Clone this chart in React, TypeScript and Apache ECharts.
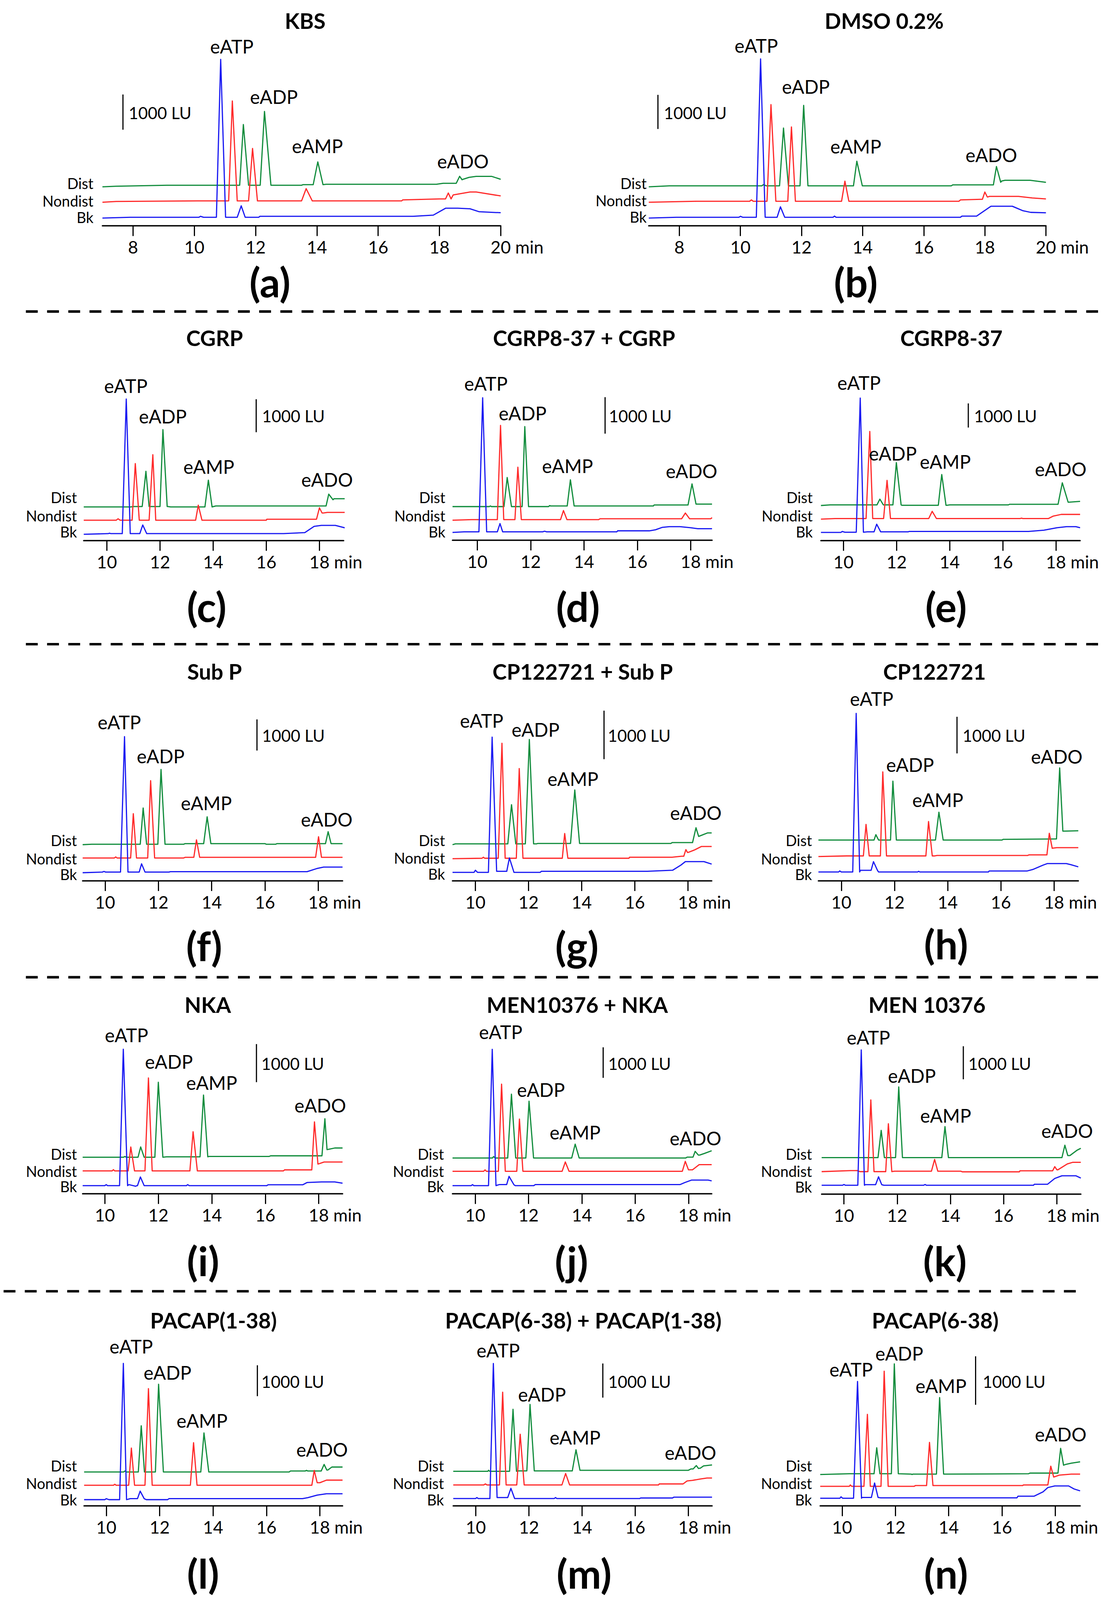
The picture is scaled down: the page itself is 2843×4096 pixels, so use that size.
import React, { useEffect, useRef } from "react";
import * as echarts from "echarts";

const W = 2843;
const H = 4096;
const S = W / 3091;
const FONT = "Lato, 'Open Sans', 'DejaVu Sans', sans-serif";
const GREEN = "#118c3c";
const RED = "#ff2a2a";
const BLUE = "#1a1af2";

const TITLES = ["KBS", "DMSO 0.2%", "CGRP", "CGRP8-37 + CGRP", "CGRP8-37", "Sub P", "CP122721 + Sub P", "CP122721", "NKA", "MEN10376 + NKA", "MEN 10376", "PACAP(1-38)", "PACAP(6-38) + PACAP(1-38)", "PACAP(6-38)"];
const TAGS = ["(a)", "(b)", "(c)", "(d)", "(e)", "(f)", "(g)", "(h)", "(i)", "(j)", "(k)", "(l)", "(m)", "(n)"];
const PEAK_LABELS = ["eATP", "eADP", "eAMP", "eADO"];
const TRACE_LABELS = ["Dist", "Nondist", "Bk"];
const TICKS_WIDE = [8, 10, 12, 14, 16, 18, 20];
const TICKS_NARROW = [10, 12, 14, 16, 18];

// Each trace: base = [min, LU] baseline points; peaks = [start, apex time, end, apex LU, (end level)]
const A_BK = { base: [[7,0],[7.9,22],[10.15,22],[10.2,50],[10.3,22],[12.1,22],[12.14,50],[17.14,50],[17.8,84],[18.2,280],[18.6,280],[19.0,264],[19.3,180],[20,152]], peaks: [[10.72,10.86,11.02,4507],[11.4,11.53,11.66,348]] };
const A_ND = { base: [[7,0],[7.45,22],[10.1,39],[16.77,39],[16.8,67],[18.0,96],[18.45,208],[19.0,292],[19.2,292],[20,180]], peaks: [[11.12,11.24,11.4,2877],[11.77,11.9,12.06,1529],[13.5,13.65,13.85,388],[18.2,18.29,18.38,264]] };
const A_DI = { base: [[7,0],[7.45,17],[9.1,45],[13.5,45],[13.55,62],[14.3,73],[17.9,73],[18.12,101],[18.77,214],[18.97,270],[19.2,298],[19.7,298],[20,214]], peaks: [[11.48,11.6,11.77,1770],[12.15,12.29,12.5,2141],[13.88,14.03,14.2,708],[18.55,18.66,18.74,298,200]] };

const B_BK = { base: [[7,0],[7.9,23],[9.95,23],[10.0,52],[10.08,23],[13.03,23],[13.08,58],[13.13,23],[17.2,23],[17.25,58],[17.73,58],[18.2,347],[18.9,347],[19.25,214],[19.5,168],[20,156]], peaks: [[10.52,10.66,10.81,4664],[11.2,11.31,11.45,329]] };
const B_ND = { base: [[7,0],[8.55,29],[10.3,29],[10.36,69],[10.42,29],[17.15,29],[17.2,69],[17.85,87],[18.1,156],[18.15,173],[19.1,173],[19.55,127],[20,98]], peaks: [[10.87,11.0,11.16,2861],[11.55,11.67,11.8,2208],[13.31,13.42,13.55,618],[17.92,18.0,18.08,300,156]] };
const B_DI = { base: [[7,0],[7.67,29],[10.7,29],[10.75,64],[10.85,29],[16.9,29],[16.95,58],[18.55,170],[18.66,191],[19.48,191],[20,133]], peaks: [[11.28,11.41,11.57,1722],[11.95,12.07,12.21,2387],[13.7,13.81,13.99,751],[18.28,18.38,18.52,595,133]] };

const C_BK = { base: [[9.13,0],[10.05,19],[10.1,31],[10.15,19],[16.65,19],[17.45,50],[17.8,238],[18.07,269],[18.6,269],[19.05,175]], peaks: [[10.58,10.73,10.88,4100],[11.24,11.35,11.5,281]] };
const C_ND = { base: [[9.13,0],[10.35,0],[10.42,44],[10.5,0],[16.0,0],[16.02,31],[17.7,31],[18.15,219],[18.3,238],[19.05,238]], peaks: [[10.95,11.07,11.22,1719],[11.59,11.73,11.84,1988],[13.34,13.44,13.58,456],[17.89,18.0,18.1,375,219]] };
const C_DI = { base: [[9.13,0],[10.9,0],[11.0,13],[12.3,13],[12.4,0],[13.5,0],[14.1,31],[17.6,31],[18.55,250],[19.05,250]], peaks: [[11.33,11.47,11.59,1081],[12.0,12.11,12.27,2344],[13.69,13.82,13.96,812],[18.25,18.35,18.51,388,219]] };

const D_BK = { base: [[9.07,0],[9.5,17],[12.45,17],[12.52,34],[12.6,17],[15.23,17],[15.26,45],[16.45,45],[16.68,73],[16.94,141],[17.2,158],[17.6,158],[18.0,130],[18.27,102],[18.8,102]], peaks: [[10.06,10.2,10.35,3689],[10.75,10.85,10.95,243]] };
const D_ND = { base: [[9.07,0],[9.78,17],[14.55,17],[14.6,40],[18.75,40],[18.8,73]], peaks: [[10.75,10.87,10.99,2599],[11.41,11.52,11.65,1452],[13.12,13.23,13.36,266],[17.66,17.8,17.96,198]] };
const D_DI = { base: [[9.07,0],[10.45,0],[10.49,17],[10.53,0],[12.67,0],[12.71,28],[12.75,17],[16.6,17],[16.63,45],[18.8,68]], peaks: [[11.0,11.12,11.28,797],[11.68,11.78,11.92,2192],[13.37,13.49,13.63,735],[17.9,18.05,18.2,622,68]] };

const E_BK = { base: [[9.15,0],[9.9,0],[9.95,43],[10.05,9],[10.9,26],[12.44,26],[12.47,43],[16.97,43],[17.55,94],[18.04,197],[18.4,239],[18.75,239],[18.91,197]], peaks: [[10.48,10.63,10.75,5566],[11.15,11.25,11.4,342]] };
const E_ND = { base: [[9.15,0],[9.68,26],[16.66,26],[16.7,43],[16.76,26],[17.72,26],[17.9,128],[18.2,197],[18.91,197]], peaks: [[10.85,10.99,11.1,3634],[11.51,11.64,11.77,1607],[13.21,13.34,13.5,325]] };
const E_DI = { base: [[9.15,0],[9.5,26],[12.2,9],[13.9,9],[14.0,26],[16.21,26],[16.25,51],[18.05,51],[18.91,171]], peaks: [[11.26,11.37,11.5,265],[11.86,11.99,12.17,1778],[13.57,13.7,13.86,1283],[18.08,18.24,18.46,941,137]] };

const F_BK = { base: [[9.16,0],[9.9,20],[9.96,40],[10.02,20],[12.4,20],[12.45,33],[17.58,33],[17.94,132],[18.2,179],[18.91,179]], peaks: [[10.58,10.73,10.86,4369],[11.28,11.37,11.5,285]] };
const F_ND = { base: [[9.16,0],[10.35,0],[10.4,33],[10.45,0],[12.95,0],[13.0,20],[18.91,20]], peaks: [[10.96,11.06,11.18,1423],[11.6,11.71,11.86,2483],[13.33,13.43,13.55,583],[17.9,18.01,18.12,682]] };
const F_DI = { base: [[9.16,0],[9.5,13],[12.95,13],[13.0,33],[16.0,33],[16.05,13],[16.4,13],[16.45,33],[18.91,33]], peaks: [[11.32,11.43,11.56,1178],[11.98,12.1,12.25,2416],[13.7,13.83,13.97,894],[18.27,18.37,18.48,417]] };

const G_BK = { base: [[9.14,0],[9.95,0],[10.0,43],[10.08,0],[10.8,21],[11.15,21],[11.45,0],[12.44,0],[12.48,21],[16.47,21],[17.42,43],[17.73,149],[17.9,221],[18.6,221],[18.89,170]], peaks: [[10.49,10.63,10.8,2787],[11.18,11.28,11.44,298]] };
const G_ND = { base: [[9.14,0],[10.25,9],[10.3,30],[10.35,9],[15.78,9],[15.8,30],[17.4,30],[17.75,51],[18.0,128],[18.24,179],[18.5,251],[18.89,251]], peaks: [[10.86,11.0,11.12,2379],[11.54,11.65,11.79,1859],[13.27,13.36,13.48,519],[17.84,17.92,17.98,187,128]] };
const G_DI = { base: [[9.14,0],[9.25,17],[12.3,17],[12.35,26],[17.36,26],[17.4,43],[18.15,43],[18.74,243],[18.89,243]], peaks: [[11.22,11.36,11.52,825],[11.88,12.03,12.19,2170],[13.58,13.74,13.92,1128],[18.17,18.3,18.4,349,170]] };

const H_BK = { base: [[9.14,0],[9.9,0],[9.94,28],[10.0,0],[10.72,45],[11.08,45],[11.4,0],[12.87,0],[12.91,17],[12.95,0],[15.53,0],[15.56,28],[16.99,28],[17.22,73],[17.58,185],[17.75,230],[18.46,230],[18.64,197],[18.91,140]], peaks: [[10.43,10.56,10.69,4327],[11.12,11.21,11.36,281]] };
const H_ND = { base: [[9.14,0],[10.2,17],[13.5,17],[13.6,28],[17.0,28],[17.05,45],[17.7,45],[18.1,242],[18.91,242]], peaks: [[10.83,10.93,11.05,877],[11.47,11.56,11.7,2310],[13.18,13.28,13.42,955],[17.73,17.82,17.93,635,225]] };
const H_DI = { base: [[9.14,0],[16.05,0],[16.08,17],[18.05,28],[18.35,242],[18.91,253]], peaks: [[11.23,11.3,11.4,146],[11.85,11.94,12.07,1607],[13.54,13.67,13.83,759],[18.09,18.21,18.33,1967,242]] };

const I_BK = { base: [[9.17,0],[10.0,0],[10.05,27],[10.1,0],[10.9,27],[11.15,-16],[11.2,0],[13.05,0],[13.1,27],[13.15,0],[16.06,0],[16.1,22],[17.4,22],[17.56,81],[18.1,97],[18.6,97],[18.89,65]], peaks: [[10.55,10.69,10.85,3581],[11.22,11.33,11.47,227]] };
const I_ND = { base: [[9.17,0],[10.27,0],[10.32,32],[10.37,0],[16.68,0],[16.72,27],[17.6,27],[18.2,233],[18.89,233]], peaks: [[10.87,10.97,11.11,628],[11.5,11.63,11.77,2440],[13.18,13.3,13.46,1028],[17.74,17.84,17.97,1288,179]] };
const I_DI = { base: [[9.17,0],[10.7,0],[10.75,22],[10.8,0],[12.3,11],[13.5,11],[13.9,22],[16.15,22],[16.2,38],[18.05,38],[18.35,205],[18.6,243],[18.89,243]], peaks: [[11.24,11.34,11.47,271],[11.87,12.0,12.17,1969],[13.56,13.69,13.85,1634],[18.12,18.23,18.31,1012,200]] };

const J_BK = { base: [[9.15,0],[9.85,0],[9.9,34],[9.95,0],[10.9,34],[11.15,34],[11.5,0],[12.2,0],[12.25,34],[17.68,34],[17.86,101],[18.12,183],[18.74,183],[18.87,155]], peaks: [[10.5,10.64,10.78,4462],[11.18,11.27,11.45,304]] };
const J_ND = { base: [[9.15,0],[10.32,0],[10.37,47],[10.42,0],[17.75,0],[18.15,47],[18.4,216],[18.87,216]], peaks: [[10.87,10.99,11.13,2853],[11.56,11.66,11.79,1710],[13.26,13.38,13.52,304],[17.77,17.88,18.0,324,47]] };
const J_DI = { base: [[9.15,0],[10.65,0],[10.69,47],[10.75,0],[17.9,0],[17.95,27],[18.42,95],[18.6,149],[18.87,237]], peaks: [[11.22,11.36,11.52,2089],[11.9,12.02,12.19,1859],[13.62,13.75,13.9,453],[18.17,18.25,18.37,216,95]] };

const K_BK = { base: [[9.16,0],[9.95,0],[10.0,25],[10.05,0],[10.8,19],[11.15,19],[11.5,0],[13.0,0],[13.05,25],[13.1,0],[17.13,0],[17.16,31],[17.66,31],[17.93,206],[18.2,287],[18.73,287],[18.91,219]], peaks: [[10.52,10.65,10.77,4094],[11.19,11.3,11.42,256]] };
const K_ND = { base: [[9.16,0],[10.25,31],[10.5,31],[10.6,0],[11.9,12],[14.4,12],[14.45,-6],[16.6,-6],[16.62,25],[17.85,25],[18.05,56],[18.4,231],[18.6,281],[18.91,281]], peaks: [[10.9,11.01,11.13,2169],[11.57,11.67,11.8,1450],[13.29,13.41,13.53,369],[17.86,17.93,18.01,150,56]] };
const K_DI = { base: [[9.16,0],[18.15,0],[18.5,62],[18.76,219],[18.91,281]], peaks: [[11.28,11.4,11.52,825],[11.94,12.06,12.2,2138],[13.68,13.8,13.93,938],[18.2,18.31,18.42,375,62]] };

const L_BK = { base: [[9.17,0],[9.95,0],[10.0,32],[10.1,0],[10.9,32],[11.15,32],[11.5,0],[12.3,0],[12.35,32],[17.35,32],[17.55,64],[17.9,147],[18.25,192],[18.85,192]], peaks: [[10.5,10.64,10.76,4410],[11.17,11.27,11.42,276]] };
const L_ND = { base: [[9.17,0],[10.27,0],[10.32,32],[10.37,0],[17.6,0],[18.0,83],[18.25,167],[18.85,167]], peaks: [[10.84,10.94,11.06,1205],[11.45,11.58,11.72,3128],[13.15,13.27,13.4,1378],[17.7,17.79,17.9,481,83]] };
const L_DI = { base: [[9.17,0],[10.65,0],[10.7,32],[10.75,0],[16.85,0],[16.9,32],[17.45,32],[17.5,51],[17.55,32],[18.0,32],[18.3,64],[18.45,160],[18.85,160]], peaks: [[11.2,11.31,11.43,1494],[11.84,11.96,12.14,2840],[13.54,13.66,13.84,1263],[18.05,18.16,18.26,244,64]] };

const M_BK = { base: [[9.15,0],[9.99,0],[10.04,29],[10.09,0],[10.8,29],[11.15,29],[11.45,0],[12.95,0],[13.0,29],[13.05,0],[16.17,0],[16.2,17],[17.4,17],[17.45,40],[18.89,40]], peaks: [[10.53,10.66,10.8,3959],[11.2,11.32,11.46,300]] };
const M_ND = { base: [[9.15,0],[10.3,0],[10.36,29],[10.42,0],[16.88,0],[16.9,29],[17.8,29],[17.95,116],[18.15,133],[18.45,173],[18.7,202],[18.89,202]], peaks: [[10.89,11.01,11.14,2717],[11.54,11.67,11.82,1485],[13.24,13.38,13.53,335]] };
const M_DI = { base: [[9.15,0],[10.45,0],[10.48,29],[10.52,0],[11.6,12],[12.4,12],[13.9,29],[18.0,29],[18.1,69],[18.45,90],[18.57,156],[18.89,185]], peaks: [[11.27,11.4,11.53,1815],[11.92,12.04,12.2,1959],[13.63,13.77,13.92,630],[18.18,18.3,18.38,168,81]] };

const N_BK = { base: [[9.18,0],[9.92,0],[9.96,29],[10.02,0],[10.75,16],[11.1,16],[11.45,8],[16.56,8],[16.6,41],[17.2,41],[17.54,131],[17.72,220],[17.98,253],[18.5,253],[18.7,192],[18.93,151]], peaks: [[10.43,10.58,10.73,2407],[11.11,11.22,11.35,314]] };
const N_ND = { base: [[9.18,0],[10.27,0],[10.31,29],[10.36,0],[12.7,0],[12.75,16],[16.78,16],[16.8,29],[17.7,29],[18.16,233],[18.6,253],[18.93,253]], peaks: [[10.82,10.95,11.06,1485],[11.46,11.58,11.73,2375],[13.17,13.28,13.41,906],[17.72,17.83,17.94,416,192]] };
const N_DI = { base: [[9.18,0],[10.27,16],[12.6,8],[12.62,0],[12.66,8],[17.0,16],[17.05,29],[18.05,29],[18.4,210],[18.6,233],[18.93,261]], peaks: [[11.2,11.3,11.42,551],[11.85,11.96,12.11,2281],[13.54,13.66,13.81,1587],[18.1,18.2,18.31,539,192]] };

// Layout (reference pixels): axis ends, baselines, scale bar, text anchors
const LAYOUT = [
  { traces: [A_DI, A_ND, A_BK], ticks: TICKS_WIDE, x0: 285, x1: 1393, tMin: 7, tMax: 20, axisY: 628, bar: 98, bkY: 607, nY: 563, dY: 520, barT: 7.67, barBot: 361, title: [849, 58], tag: [751, 784], lbl: [[645, 129], [762, 269], [883, 406], [1288, 449]], trR: 260, trY: [513, 559, 601], barTx: [358, 314] },
  { traces: [B_DI, B_ND, B_BK], ticks: TICKS_WIDE, x0: 1805, x1: 2910, tMin: 7, tMax: 20, axisY: 628, bar: 95, bkY: 607, nY: 563, dY: 520, barT: 7.3, barBot: 359, title: [2460, 58], tag: [2381, 784], lbl: [[2104, 127], [2242, 241], [2381, 407], [2758, 431]], trR: 1799, trY: [513, 558, 600], barTx: [1847, 314] },
  { traces: [C_DI, C_ND, C_BK], ticks: TICKS_NARROW, x0: 233, x1: 956, tMin: 9.13, tMax: 18.91, axisY: 1504, bar: 91.8, bkY: 1487, nY: 1448, dY: 1411, barT: 15.62, barBot: 1203, title: [597, 940], tag: [575, 1687], lbl: [[350, 1074], [453, 1158], [581, 1299], [910, 1335]], trR: 214, trY: [1388, 1436, 1476], barTx: [729, 1157] },
  { traces: [D_DI, D_ND, D_BK], ticks: TICKS_NARROW, x0: 1259, x1: 1981, tMin: 9.07, tMax: 18.8, axisY: 1503, bar: 101.6, bkY: 1482, nY: 1448, dY: 1410, barT: 14.79, barBot: 1207, title: [1625, 940], tag: [1608, 1687], lbl: [[1352, 1067], [1454, 1150], [1579, 1297], [1924, 1311]], trR: 1239, trY: [1388, 1436, 1476], barTx: [1694, 1157] },
  { traces: [E_DI, E_ND, E_BK], ticks: TICKS_NARROW, x0: 2284, x1: 3005, tMin: 9.15, tMax: 18.91, axisY: 1504, bar: 67.2, bkY: 1482, nY: 1445, dY: 1407, barT: 14.7, barBot: 1190, title: [2647, 940], tag: [2632, 1687], lbl: [[2390, 1065], [2484, 1262], [2630, 1285], [2951, 1305]], trR: 2261, trY: [1388, 1436, 1476], barTx: [2710, 1157] },
  { traces: [F_DI, F_ND, F_BK], ticks: TICKS_NARROW, x0: 230, x1: 953, tMin: 9.16, tMax: 18.91, axisY: 2451, bar: 86.7, bkY: 2429, nY: 2388, dY: 2351, barT: 15.7, barBot: 2089, title: [597, 1869], tag: [568, 2632], lbl: [[332, 2010], [447, 2104], [574, 2235], [909, 2281]], trR: 214, trY: [2342, 2390, 2430], barTx: [729, 2047] },
  { traces: [G_DI, G_ND, G_BK], ticks: TICKS_NARROW, x0: 1259, x1: 1980, tMin: 9.14, tMax: 18.89, axisY: 2451, bar: 135, bkY: 2428, nY: 2390, dY: 2351, barT: 14.84, barBot: 2113, title: [1621, 1869], tag: [1605, 2632], lbl: [[1340, 2005], [1490, 2030], [1594, 2167], [1936, 2262]], trR: 1238, trY: [2342, 2388, 2429], barTx: [1691, 2047] },
  { traces: [H_DI, H_ND, H_BK], ticks: TICKS_NARROW, x0: 2277, x1: 3000, tMin: 9.14, tMax: 18.91, axisY: 2451, bar: 102, bkY: 2427, nY: 2384, dY: 2338, barT: 14.35, barBot: 2097, title: [2600, 1869], tag: [2632, 2627], lbl: [[2425, 1945], [2532, 2128], [2609, 2226], [2940, 2105]], trR: 2259, trY: [2342, 2390, 2430], barTx: [2678, 2047] },
  { traces: [I_DI, I_ND, I_BK], ticks: TICKS_NARROW, x0: 230, x1: 953, tMin: 9.17, tMax: 18.89, axisY: 3322, bar: 106, bkY: 3300, nY: 3259, dY: 3221, barT: 15.67, barBot: 3012, title: [578, 2796], tag: [565, 3509], lbl: [[352, 2881], [470, 2955], [589, 3013], [891, 3076]], trR: 214, trY: [3215, 3260, 3299], barTx: [727, 2960] },
  { traces: [J_DI, J_ND, J_BK], ticks: TICKS_NARROW, x0: 1259, x1: 1980, tMin: 9.15, tMax: 18.87, axisY: 3322, bar: 85, bkY: 3300, nY: 3260, dY: 3223, barT: 14.8, barBot: 3000, title: [1606, 2796], tag: [1590, 3509], lbl: [[1393, 2872], [1505, 3033], [1600, 3151], [1935, 3168]], trR: 1235, trY: [3215, 3260, 3299], barTx: [1692, 2960] },
  { traces: [K_DI, K_ND, K_BK], ticks: TICKS_NARROW, x0: 2286, x1: 3007, tMin: 9.16, tMax: 18.91, axisY: 3323, bar: 92, bkY: 3299, nY: 3261, dY: 3222, barT: 14.49, barBot: 3004, title: [2579, 2796], tag: [2629, 3509], lbl: [[2416, 2887], [2537, 2994], [2631, 3105], [2969, 3147]], trR: 2259, trY: [3215, 3260, 3300], barTx: [2694, 2960] },
  { traces: [L_DI, L_ND, L_BK], ticks: TICKS_NARROW, x0: 234, x1: 953, tMin: 9.17, tMax: 18.85, axisY: 4191, bar: 86, bkY: 4174, nY: 4134, dY: 4097, barT: 15.66, barBot: 3886, title: [594, 3675], tag: [565, 4378], lbl: [[365, 3747], [466, 3820], [562, 3954], [896, 4034]], trR: 214, trY: [4083, 4129, 4170], barTx: [727, 3845] },
  { traces: [M_DI, M_ND, M_BK], ticks: TICKS_NARROW, x0: 1261, x1: 1981, tMin: 9.15, tMax: 18.89, axisY: 4191, bar: 95, bkY: 4171, nY: 4133, dY: 4095, barT: 14.78, barBot: 3890, title: [1623, 3675], tag: [1625, 4378], lbl: [[1386, 3758], [1508, 3881], [1600, 4000], [1921, 4043]], trR: 1235, trY: [4083, 4129, 4170], barTx: [1692, 3845] },
  { traces: [N_DI, N_ND, N_BK], ticks: TICKS_NARROW, x0: 2282, x1: 3005, tMin: 9.18, tMax: 18.93, axisY: 4191, bar: 135, bkY: 4170, nY: 4137, dY: 4104, barT: 15.01, barBot: 3910, title: [2602, 3675], tag: [2632, 4378], lbl: [[2368, 3811], [2502, 3767], [2618, 3857], [2951, 3992]], trR: 2259, trY: [4083, 4129, 4170], barTx: [2734, 3845] },
];

const DASHES = [[72, 3068, 867], [72, 3068, 1793], [72, 3068, 2720], [10, 3010, 3594]];
const TRACK_NUDGE = [-3, 0, 4];

function buildTrace(base, peaks) {
  const lvl = (t) => {
    let v = base[0][1];
    for (const [bt, bv] of base) {
      if (bt <= t) v = bv;
      else break;
    }
    return v;
  };
  const inPeak = (t) => peaks.some((p) => t > p[0] && t < p[2]);
  const pts = [];
  for (const b of base) if (!inPeak(b[0])) pts.push([b[0], b[1]]);
  for (const p of peaks) {
    pts.push([p[0], lvl(p[0])]);
    pts.push([p[1], p[3]]);
    pts.push([p[2], p.length > 4 ? p[4] : lvl(p[2])]);
  }
  pts.sort((a, b) => a[0] - b[0]);
  return pts;
}

const SZ = { title: 60, tag: 112, peak: 52, tick: 48.6, track: 41, barText: 46 };

function txt(x, y, s, size, weight, align, lh) {
  const style: any = { text: s, fontSize: size * S, fontFamily: FONT, fontWeight: weight, fill: "#000", align, verticalAlign: "middle" };
  if (lh) style.lineHeight = lh * S;
  return { type: "text", x: x * S, y: y * S, silent: true, z: 10, style };
}

export default function App() {
  const ref = useRef(null);
  useEffect(() => {
    const chart = echarts.init(ref.current, null, { renderer: "svg", width: W, height: H });
    const tickSize = SZ.tick * S;
    const cv = document.createElement("canvas").getContext("2d");
    cv.font = `${tickSize}px Lato`;
    const minW = cv.measureText(" min").width;

    const grids = [];
    const xAxes = [];
    const yAxes = [];
    const series = [];
    const graphics = [];
    const cols = [GREEN, RED, BLUE];
    const SPAN = 560;

    LAYOUT.forEach((p, i) => {
      const k = p.bar / 1000;
      const yMin = -(p.axisY - p.bkY) / k;
      const yMax = yMin + SPAN / k;
      grids.push({ left: p.x0 * S, top: (p.axisY - SPAN) * S, width: (p.x1 - p.x0) * S, height: SPAN * S, containLabel: false });
      const last = p.ticks[p.ticks.length - 1];
      xAxes.push({
        gridIndex: i,
        type: "value",
        min: p.tMin,
        max: p.tMax,
        axisLine: { show: true, onZero: false, lineStyle: { color: "#000", width: 4 * S } },
        axisTick: { show: true, inside: false, length: 29 * S, lineStyle: { color: "#000", width: 3.3 * S }, customValues: p.ticks },
        axisLabel: {
          show: true,
          customValues: p.ticks,
          margin: 35 * S,
          color: "#000",
          fontFamily: FONT,
          fontSize: tickSize,
          formatter: (v) => (v === last ? `{n|${v}}{m| min}` : String(v)),
          rich: {
            n: { fontFamily: FONT, fontSize: tickSize, color: "#000", padding: [0, 0, 0, minW] },
            m: { fontFamily: FONT, fontSize: tickSize, color: "#000" },
          },
        },
        splitLine: { show: false },
      });
      yAxes.push({ gridIndex: i, type: "value", min: yMin, max: yMax, show: false });
      const offs = [(p.bkY - p.dY) / k, (p.bkY - p.nY) / k, 0];
      p.traces.forEach((tr, j) => {
        series.push({
          type: "line",
          name: TITLES[i] + " " + TRACE_LABELS[j],
          xAxisIndex: i,
          yAxisIndex: i,
          data: buildTrace(tr.base, tr.peaks).map(([t, v]) => [t, v + offs[j]]),
          symbol: "none",
          showSymbol: false,
          clip: false,
          silent: true,
          z: 2 + j,
          lineStyle: { color: cols[j], width: 3.3 * S, join: "round" },
        });
      });
      const barLU = (p.bkY - p.barBot) / k;
      series.push({
        type: "line",
        name: TITLES[i] + " scale",
        xAxisIndex: i,
        yAxisIndex: i,
        data: [[p.barT, barLU], [p.barT, barLU + 1000]],
        symbol: "none",
        showSymbol: false,
        clip: false,
        silent: true,
        z: 6,
        lineStyle: { color: "#000", width: 3.2 * S },
      });
      graphics.push(txt(p.title[0], p.title[1], TITLES[i], SZ.title, "bold", "center", 0));
      graphics.push(txt(p.tag[0], p.tag[1], TAGS[i], SZ.tag, "bold", "center", 0));
      p.lbl.forEach((l, j) => graphics.push(txt(l[0], l[1], PEAK_LABELS[j], SZ.peak, "normal", "center", 40)));
      TRACE_LABELS.forEach((s, j) => graphics.push(txt(p.trR, p.trY[j] + TRACK_NUDGE[j], s, SZ.track, "normal", "right", 34)));
      graphics.push(txt(p.barTx[0], p.barTx[1], "1000 LU", SZ.barText, "normal", "left", 0));
    });

    DASHES.forEach(([xa, xb, y]) => {
      graphics.push({
        type: "line",
        silent: true,
        shape: { x1: xa * S, y1: y * S, x2: xb * S, y2: y * S },
        style: { stroke: "#000", lineWidth: 7 * S, lineDash: [33 * S, 26 * S] },
      });
    });

    chart.setOption({
      animation: false,
      backgroundColor: "#fff",
      grid: grids,
      xAxis: xAxes,
      yAxis: yAxes,
      series,
      graphic: { elements: graphics },
    });
    return () => chart.dispose();
  }, []);
  return <div ref={ref} style={{ position: "absolute", left: 0, top: 0, width: W, height: H, background: "#fff" }} />;
}
